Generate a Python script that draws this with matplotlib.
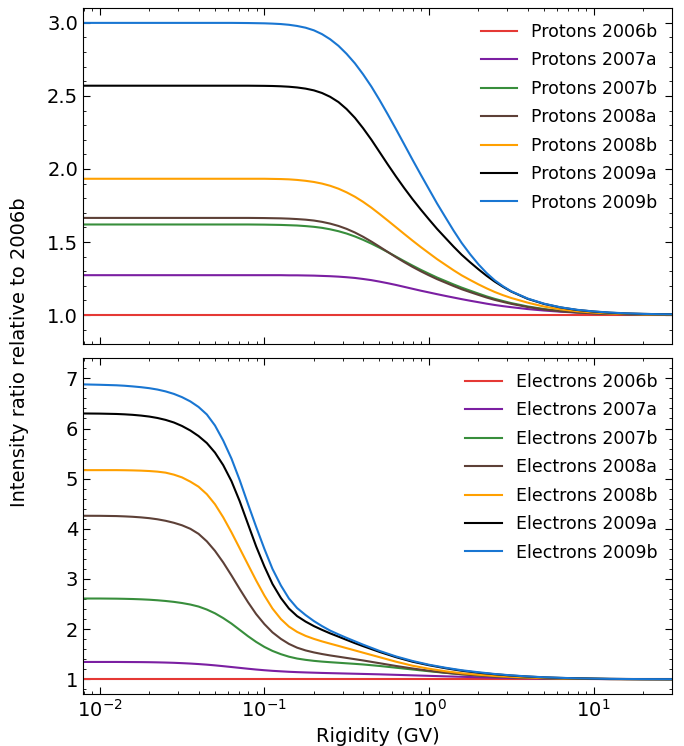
import numpy as np
import matplotlib
matplotlib.use("Agg")
import matplotlib.pyplot as plt
from matplotlib.ticker import AutoMinorLocator, LogLocator, NullFormatter

# rigidity grid (GV) for the proton curves, denser through the roll-off
rig_p = [0.0079, 0.0631, 0.0794,
         0.1, 0.112, 0.126, 0.141, 0.158, 0.178, 0.2, 0.224, 0.251, 0.282,
         0.316, 0.355, 0.398, 0.447, 0.501, 0.562, 0.631, 0.708, 0.794, 0.891,
         1.0, 1.12, 1.26, 1.41, 1.58, 1.78, 2.0, 2.24, 2.51, 2.82, 3.16,
         3.98, 5.01, 6.31, 7.94, 10, 12.6, 15.8, 20, 25.1, 31.6]

p2006b = [1.0] * len(rig_p)
p2007a = [1.273, 1.273, 1.273,
          1.273, 1.273, 1.273, 1.272, 1.272, 1.271, 1.27, 1.268, 1.266, 1.263,
          1.259, 1.254, 1.247, 1.239, 1.229, 1.218, 1.206, 1.193, 1.18, 1.167,
          1.155, 1.143, 1.131, 1.12, 1.109, 1.098, 1.088, 1.078, 1.069, 1.061, 1.054,
          1.041, 1.031, 1.023, 1.017, 1.012, 1.009, 1.006, 1.004, 1.003, 1.002]
p2007b = [1.62, 1.62, 1.62,
          1.619, 1.618, 1.617, 1.615, 1.613, 1.609, 1.604, 1.597, 1.587, 1.574,
          1.558, 1.538, 1.515, 1.489, 1.461, 1.431, 1.40, 1.369, 1.339, 1.31,
          1.283, 1.257, 1.233, 1.21, 1.188, 1.167, 1.147, 1.128, 1.111, 1.096, 1.082,
          1.059, 1.041, 1.028, 1.019, 1.013, 1.009, 1.006, 1.004, 1.003, 1.002]
p2008a = [1.665, 1.665, 1.665,
          1.664, 1.663, 1.662, 1.66, 1.657, 1.653, 1.647, 1.638, 1.626, 1.61,
          1.59, 1.565, 1.536, 1.503, 1.468, 1.432, 1.396, 1.362, 1.33, 1.30,
          1.272, 1.246, 1.222, 1.199, 1.177, 1.157, 1.138, 1.12, 1.104, 1.09, 1.077,
          1.055, 1.038, 1.026, 1.018, 1.012, 1.008, 1.006, 1.004, 1.003, 1.002]
p2008b = [1.933, 1.933, 1.933,
          1.933, 1.932, 1.931, 1.929, 1.925, 1.919, 1.911, 1.90, 1.885, 1.865,
          1.84, 1.81, 1.775, 1.735, 1.692, 1.647, 1.601, 1.555, 1.51, 1.466,
          1.424, 1.383, 1.344, 1.307, 1.272, 1.24, 1.21, 1.183, 1.158, 1.136, 1.117,
          1.085, 1.058, 1.039, 1.026, 1.017, 1.011, 1.008, 1.005, 1.004, 1.003]
p2009a = [2.57, 2.57, 2.57,
          2.569, 2.568, 2.566, 2.563, 2.558, 2.550, 2.538, 2.520, 2.494, 2.458,
          2.410, 2.350, 2.279, 2.200, 2.116, 2.031, 1.948, 1.869, 1.794, 1.723,
          1.655, 1.590, 1.528, 1.469, 1.413, 1.361, 1.313, 1.269, 1.229, 1.193, 1.161,
          1.111, 1.076, 1.052, 1.035, 1.024, 1.016, 1.011, 1.008, 1.006, 1.005]
p2009b = [3.0, 3.0, 2.999,
          2.997, 2.995, 2.992, 2.987, 2.979, 2.967, 2.949, 2.923, 2.888, 2.843,
          2.788, 2.723, 2.648, 2.564, 2.472, 2.374, 2.272, 2.168, 2.064, 1.962,
          1.862, 1.764, 1.669, 1.579, 1.494, 1.416, 1.347, 1.288, 1.238, 1.197, 1.163,
          1.113, 1.078, 1.053, 1.036, 1.025, 1.017, 1.012, 1.008, 1.006, 1.005]

# rigidity grid (GV) for the electron curves, denser through the roll-off
rig_e = [0.0079, 0.01, 0.0126,
         0.0141, 0.0158, 0.0178, 0.02, 0.0224, 0.0251, 0.0282, 0.0316, 0.0355, 0.0398,
         0.0447, 0.0501, 0.0562, 0.0631, 0.0708, 0.0794, 0.0891, 0.1, 0.112, 0.126,
         0.141, 0.158, 0.178, 0.2, 0.224, 0.251, 0.282, 0.316, 0.355, 0.398,
         0.501, 0.631, 0.794, 1.0, 1.26, 1.58, 2.0, 2.51, 3.16, 3.98,
         5.01, 6.31, 7.94, 10, 12.6, 15.8, 20, 25.1, 31.6]

e2006b = [1.0] * len(rig_e)
e2007a = [1.345, 1.345, 1.345,
          1.344, 1.343, 1.342, 1.340, 1.337, 1.333, 1.328, 1.321, 1.313, 1.303,
          1.291, 1.277, 1.261, 1.244, 1.227, 1.21, 1.194, 1.18, 1.168, 1.158,
          1.149, 1.142, 1.136, 1.131, 1.126, 1.122, 1.118, 1.114, 1.11, 1.106,
          1.098, 1.088, 1.078, 1.068, 1.058, 1.049, 1.04, 1.032, 1.025, 1.019,
          1.014, 1.01, 1.007, 1.005, 1.003, 1.002, 1.001, 1.0, 1.0]
e2007b = [2.61, 2.61, 2.607,
          2.604, 2.60, 2.594, 2.586, 2.575, 2.561, 2.543, 2.52, 2.49, 2.45,
          2.39, 2.315, 2.22, 2.11, 1.985, 1.86, 1.745, 1.645, 1.565, 1.50,
          1.45, 1.413, 1.387, 1.367, 1.352, 1.34, 1.329, 1.318, 1.307, 1.295,
          1.265, 1.23, 1.195, 1.16, 1.128, 1.10, 1.077, 1.058, 1.043, 1.031,
          1.022, 1.016, 1.011, 1.007, 1.004, 1.003, 1.002, 1.001, 1.0]
e2008a = [4.26, 4.259, 4.254,
          4.248, 4.24, 4.228, 4.212, 4.19, 4.16, 4.12, 4.07, 4.00, 3.90,
          3.75, 3.56, 3.33, 3.07, 2.80, 2.54, 2.30, 2.10, 1.935, 1.805,
          1.705, 1.63, 1.575, 1.535, 1.503, 1.475, 1.45, 1.425, 1.40, 1.375,
          1.32, 1.265, 1.215, 1.17, 1.13, 1.10, 1.075, 1.055, 1.04, 1.029,
          1.021, 1.015, 1.01, 1.007, 1.004, 1.003, 1.002, 1.001, 1.0]
e2008b = [5.17, 5.17, 5.17,
          5.168, 5.165, 5.16, 5.152, 5.14, 5.12, 5.08, 5.025, 4.94, 4.84,
          4.69, 4.49, 4.23, 3.93, 3.61, 3.29, 2.97, 2.67, 2.41, 2.20,
          2.05, 1.945, 1.865, 1.805, 1.755, 1.71, 1.665, 1.62, 1.575, 1.53,
          1.44, 1.35, 1.27, 1.21, 1.16, 1.12, 1.09, 1.066, 1.048, 1.035,
          1.025, 1.018, 1.012, 1.008, 1.005, 1.003, 1.002, 1.001, 1.0]
e2009a = [6.30, 6.297, 6.29,
          6.283, 6.273, 6.258, 6.238, 6.21, 6.172, 6.12, 6.05, 5.96, 5.85,
          5.71, 5.52, 5.27, 4.95, 4.55, 4.10, 3.65, 3.25, 2.90, 2.62,
          2.41, 2.26, 2.15, 2.06, 1.985, 1.915, 1.85, 1.785, 1.72, 1.66,
          1.545, 1.44, 1.35, 1.28, 1.22, 1.17, 1.13, 1.10, 1.074, 1.054,
          1.038, 1.027, 1.018, 1.012, 1.008, 1.005, 1.003, 1.002, 1.001]
e2009b = [6.88, 6.872, 6.862,
          6.853, 6.84, 6.824, 6.804, 6.777, 6.74, 6.69, 6.625, 6.54, 6.43,
          6.28, 6.06, 5.76, 5.40, 4.97, 4.50, 4.04, 3.60, 3.20, 2.87,
          2.61, 2.42, 2.28, 2.16, 2.06, 1.97, 1.895, 1.825, 1.757, 1.69,
          1.565, 1.455, 1.365, 1.29, 1.23, 1.18, 1.14, 1.105, 1.078, 1.056,
          1.04, 1.028, 1.019, 1.013, 1.008, 1.005, 1.003, 1.002, 1.001]

periods = ['2006b', '2007a', '2007b', '2008a', '2008b', '2009a', '2009b']
colors = ['#e53935', '#7b1fa2', '#388e3c', '#5d4037', '#ffa000', '#000000', '#1976d2']
protons = [p2006b, p2007a, p2007b, p2008a, p2008b, p2009a, p2009b]
electrons = [e2006b, e2007a, e2007b, e2008a, e2008b, e2009a, e2009b]

fig = plt.figure(figsize=(6.84, 7.46), dpi=100)
ax1 = fig.add_axes([0.1213, 0.5385, 0.8612, 0.4504])
ax2 = fig.add_axes([0.1213, 0.0693, 0.8612, 0.4504], sharex=ax1)

for vals, col, per in zip(protons, colors, periods):
    ax1.plot(rig_p, vals, color=col, lw=1.5, label='Protons ' + per)
for vals, col, per in zip(electrons, colors, periods):
    ax2.plot(rig_e, vals, color=col, lw=1.5, label='Electrons ' + per)

ax1.set_xscale('log')
ax1.set_xlim(0.0079, 30)
ax1.set_ylim(0.8, 3.1)
ax2.set_ylim(0.7, 7.4)
ax1.set_yticks([1.0, 1.5, 2.0, 2.5, 3.0])
ax2.set_yticks([1, 2, 3, 4, 5, 6, 7])

for ax in (ax1, ax2):
    ax.yaxis.set_minor_locator(AutoMinorLocator())
    ax.xaxis.set_minor_locator(LogLocator(base=10, subs=np.arange(2, 10)))
    ax.xaxis.set_minor_formatter(NullFormatter())
    ax.tick_params(which='both', direction='in', top=True, right=True, labelsize=14)
    ax.tick_params(which='major', length=5)
    ax.tick_params(which='minor', length=2.5)
    ax.legend(loc='upper right', frameon=False, fontsize=12.5, handlelength=2.1,
              labelspacing=0.6, borderaxespad=0.45)

ax1.tick_params(labelbottom=False)
ax2.set_xlabel('Rigidity (GV)', fontsize=14)
fig.text(0.028, 0.528, 'Intensity ratio relative to 2006b', rotation=90,
         ha='center', va='center', fontsize=14)

fig.savefig('out.png', dpi=100)
